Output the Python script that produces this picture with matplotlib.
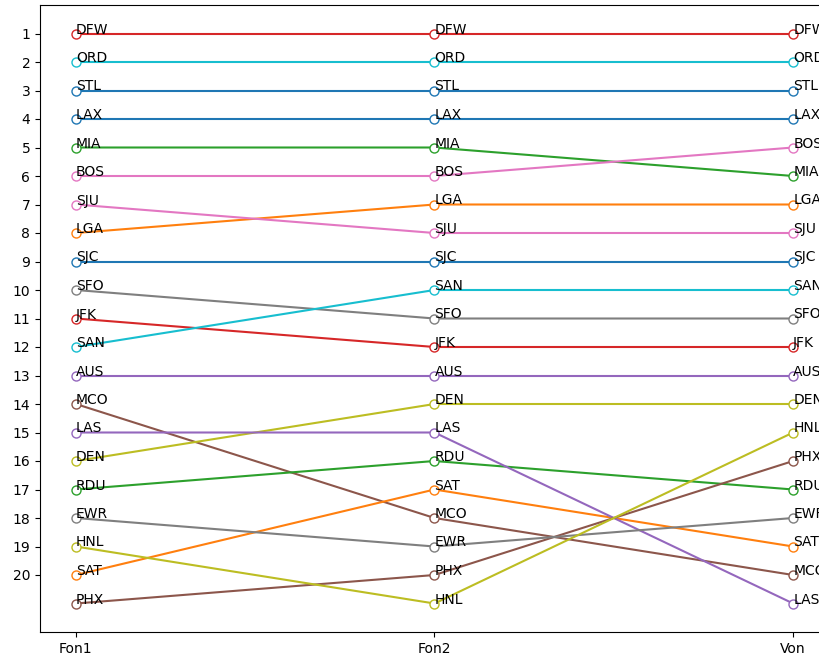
import matplotlib
matplotlib.use("Agg")
import matplotlib.pyplot as plt

stages = ["Fon1", "Fon2", "Von"]

# plot order (determines default colour cycle)
airports = ["STL", "LGA", "MIA", "DFW", "AUS", "MCO", "BOS", "SFO", "DEN", "ORD",
            "LAX", "SAT", "RDU", "JFK", "LAS", "PHX", "SJU", "EWR", "HNL", "SAN", "SJC"]

rank_fon1 = {"DFW": 1, "ORD": 2, "STL": 3, "LAX": 4, "MIA": 5, "BOS": 6, "SJU": 7, "LGA": 8,
             "SJC": 9, "SFO": 10, "JFK": 11, "SAN": 12, "AUS": 13, "MCO": 14, "LAS": 15,
             "DEN": 16, "RDU": 17, "EWR": 18, "HNL": 19, "SAT": 20, "PHX": 21}
rank_fon2 = {"DFW": 1, "ORD": 2, "STL": 3, "LAX": 4, "MIA": 5, "BOS": 6, "LGA": 7, "SJU": 8,
             "SJC": 9, "SAN": 10, "SFO": 11, "JFK": 12, "AUS": 13, "DEN": 14, "LAS": 15,
             "RDU": 16, "SAT": 17, "MCO": 18, "EWR": 19, "PHX": 20, "HNL": 21}
rank_von = {"DFW": 1, "ORD": 2, "STL": 3, "LAX": 4, "BOS": 5, "MIA": 6, "LGA": 7, "SJU": 8,
            "SJC": 9, "SAN": 10, "SFO": 11, "JFK": 12, "AUS": 13, "DEN": 14, "HNL": 15,
            "PHX": 16, "RDU": 17, "EWR": 18, "SAT": 19, "MCO": 20, "LAS": 21}

yticks = list(range(1, 21))

fig = plt.figure(figsize=(8.2, 6.56), dpi=100)
ax = fig.add_axes([40 / 820, 24 / 656, 789 / 820, 627 / 656])

xs = list(range(len(stages)))
for a in airports:
    ys = [rank_fon1[a], rank_fon2[a], rank_von[a]]
    ax.plot(xs, ys, marker="o", markerfacecolor="white", markersize=6.5)
    for x, y in zip(xs, ys):
        ax.text(x, y, a, fontsize=10)

ax.set_xticks(xs)
ax.set_xticklabels(stages)
ax.set_yticks(yticks)
ax.set_xlim(-0.1, 2.1)
ax.set_ylim(22, 0)

fig.savefig("out.png", dpi=100)
